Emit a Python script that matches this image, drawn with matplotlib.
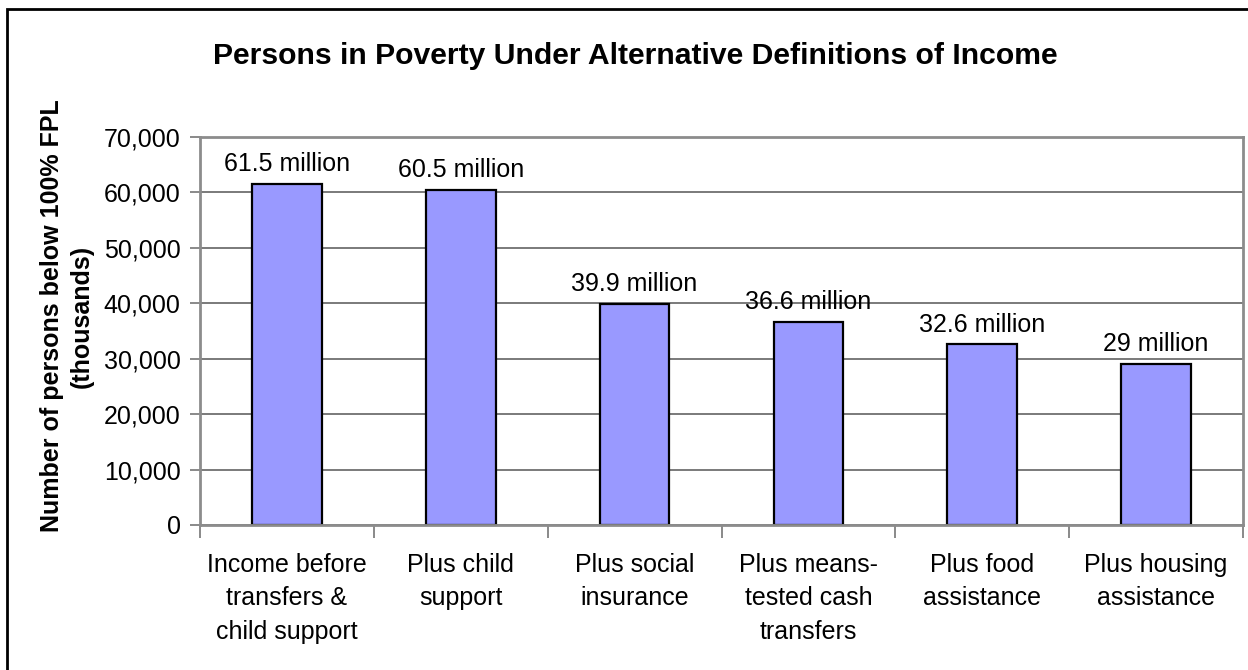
import matplotlib.pyplot as plt
from matplotlib.patches import Rectangle
from matplotlib.ticker import FuncFormatter, FixedLocator

plt.rcParams['font.family'] = ['Liberation Sans', 'DejaVu Sans']

# datos
categorias = ['Income before\ntransfers &\nchild support', 'Plus child\nsupport',
              'Plus social\ninsurance', 'Plus means-\ntested cash\ntransfers',
              'Plus food\nassistance', 'Plus housing\nassistance']
valores = [61500, 60500, 39900, 36600, 32600, 29000]
etiquetas = ['61.5 million', '60.5 million', '39.9 million', '36.6 million',
             '32.6 million', '29 million']

fig = plt.figure(figsize=(12.48, 6.7), dpi=100)
ax = fig.add_axes([200/1248, 1-525/670, 1043/1248, 388/670])

# borde del grafico (solo izq/arriba visibles)
fig.patches.append(Rectangle((7/1248, -0.1), 1.2, 1-9/670+0.1, transform=fig.transFigure,
                             fill=False, edgecolor='black', linewidth=2, clip_on=False))

x = range(len(categorias))
bars = ax.bar(x, valores, width=0.4, color='#9999ff', edgecolor='black', linewidth=1.6, zorder=3)

ax.set_xlim(-0.5, len(categorias) - 0.5)
ax.set_ylim(0, 70000)
ax.set_yticks(range(0, 70001, 10000))
ax.yaxis.set_major_formatter(FuncFormatter(lambda v, p: f'{int(v):,}'))
ax.grid(axis='y', color='#707070', linewidth=1.3, zorder=0)

# ticks del eje x entre categorias
ax.set_xticks(list(x))
ax.set_xticklabels(categorias, fontsize=18, linespacing=1.5)
ax.tick_params(axis='x', length=0, pad=20)
ax.xaxis.set_minor_locator(FixedLocator([i - 0.5 for i in range(len(categorias) + 1)]))
ax.tick_params(axis='x', which='minor', length=9, width=1.3, color='#808080')
ax.tick_params(axis='y', length=7, width=1.3, color='#808080', labelsize=18, pad=7)

for s in ax.spines.values():
    s.set_color('#8c8c8c')
    s.set_linewidth(2)
    s.set_zorder(4)

for bar, lab in zip(bars, etiquetas):
    ax.text(bar.get_x() + bar.get_width()/2, bar.get_height() + 1400, lab,
            ha='center', va='bottom', fontsize=18)

fig.text(67/1248, 1-316/670, 'Number of persons below 100% FPL\n(thousands)', fontsize=18,
         fontweight='bold', rotation=90, ha='center', va='center',
         multialignment='center', linespacing=1.3)

fig.text(635/1248, 1-56/670, 'Persons in Poverty Under Alternative Definitions of Income',
         ha='center', va='center', fontsize=21.7, fontweight='bold')

fig.savefig('out.png', dpi=100)
